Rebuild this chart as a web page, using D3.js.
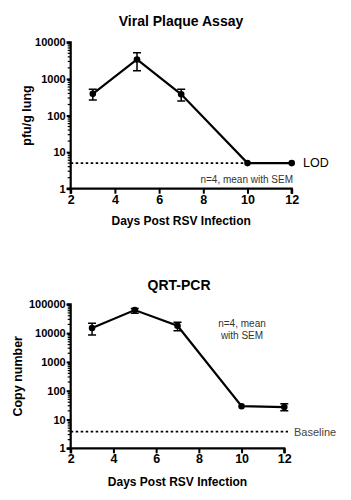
<!DOCTYPE html>
<html>
<head>
<meta charset="utf-8">
<script src="https://cdn.jsdelivr.net/npm/d3@7"></script>
<style>
body{margin:0;background:#fff;}
svg{font-family:"Liberation Sans",Arial,sans-serif;}
</style>
</head>
<body>
<svg id="drawing_region" width="351" height="500"></svg>
<script>
// data
const days = [3,5,7,10,12]
const plaque_mean = [390,3400,380,5,5]
const plaque_hi = [525,5200,520,null,null]
const plaque_lo = [265,1670,250,null,null]
const plaque_lod = 5
const pcr_mean = [15000,63000,18000,29,27]
const pcr_hi = [22000,72000,24000,null,35]
const pcr_lo = [8600,49000,12000,null,20]
const pcr_baseline = 3.8
const x_ticks = [2,4,6,8,10,12]
const plaque_yticks = [1,10,100,1000,10000]
const pcr_yticks = [1,10,100,1000,10000,100000]

const svg = d3.select("#drawing_region")

function draw_panel(config){
    const g = svg.append("g")
    const xscale = d3.scaleLinear().domain([2,12]).range([config.left,config.right])
    const yscale = d3.scaleLog().domain([1,config.ymax]).range([config.bottom,config.top])

    // title
    g.append("text")
        .attr("x",config.title_x).attr("y",config.title_y)
        .attr("text-anchor","middle").attr("font-weight","bold").attr("font-size",14)
        .text(config.title)

    // minor ticks on y
    const minor = []
    for(let p=1;p<config.ymax;p*=10){
        for(let k=2;k<=9;k++) minor.push(p*k)
    }
    g.selectAll(".minor").data(minor).enter().append("line")
        .attr("x1",config.left-3).attr("x2",config.left)
        .attr("y1",d=>yscale(d)).attr("y2",d=>yscale(d))
        .attr("stroke","#000").attr("stroke-width",1.2)

    const yaxis = d3.axisLeft(yscale).tickValues(config.yticks).tickFormat(d3.format("d"))
        .tickSize(4).tickPadding(1)
    const yg = g.append("g").attr("transform",`translate(${config.left},0)`).call(yaxis)
    yg.select(".domain").attr("stroke-width",2.2).attr("d",`M-4,${config.bottom}H0V${config.top}H-4`)
    yg.selectAll(".tick line").attr("stroke-width",2)
    yg.selectAll("text").attr("font-size",11).attr("font-weight","bold").attr("font-family","Liberation Sans, Arial, sans-serif").attr("fill","#000")

    const xaxis = d3.axisBottom(xscale).tickValues(x_ticks).tickSize(5).tickPadding(1)
    const xg = g.append("g").attr("transform",`translate(0,${config.bottom})`).call(xaxis)
    xg.select(".domain").attr("stroke-width",2.2).attr("d",`M${config.left},5V0H${config.right}V5`)
    xg.selectAll(".tick line").attr("stroke-width",2)
    xg.selectAll("text").attr("font-size",12.5).attr("font-weight","bold").attr("font-family","Liberation Sans, Arial, sans-serif").attr("fill","#000")

    // axis labels
    g.append("text")
        .attr("x",(config.left+config.right)/2).attr("y",config.xlabel_y)
        .attr("text-anchor","middle").attr("font-weight","bold").attr("font-size",12)
        .text("Days Post RSV Infection")
    g.append("text")
        .attr("transform",`translate(${config.ylabel_x},${(config.top+config.bottom)/2}) rotate(-90)`)
        .attr("text-anchor","middle").attr("font-weight","bold").attr("font-size",12.5)
        .text(config.ylabel)

    // reference line
    g.append("line")
        .attr("x1",xscale(2)).attr("x2",config.ref_end)
        .attr("y1",yscale(config.ref)).attr("y2",yscale(config.ref))
        .attr("stroke","#000").attr("stroke-width",1.8).attr("stroke-dasharray","2.5,2.5")
    g.append("text")
        .attr("x",config.ref_end+config.ref_gap).attr("y",yscale(config.ref)+4)
        .attr("font-size",config.ref_size).attr("fill",config.ref_color)
        .text(config.ref_label)

    // line
    const pts = days.map((d,i)=>({x:d,y:config.mean[i],hi:config.hi[i],lo:config.lo[i]}))
    g.append("path").datum(pts)
        .attr("d",d3.line().x(d=>xscale(d.x)).y(d=>yscale(d.y)))
        .attr("fill","none").attr("stroke","#000").attr("stroke-width",2.2)

    // error bars
    const eb = pts.filter(d=>d.hi!=null)
    g.selectAll(".eb").data(eb).enter().append("path")
        .attr("d",d=>{
            const x = xscale(d.x), y1 = yscale(d.hi), y2 = yscale(d.lo)
            return `M${x-4},${y1}H${x+4}M${x},${y1}V${y2}M${x-4},${y2}H${x+4}`
        })
        .attr("fill","none").attr("stroke","#000").attr("stroke-width",1.5)

    g.selectAll(".dot").data(pts).enter().append("circle")
        .attr("cx",d=>xscale(d.x)).attr("cy",d=>yscale(d.y)).attr("r",3.3)
        .attr("fill","#000")

    // note
    config.note.forEach((t,i)=>{
        g.append("text")
            .attr("x",config.note_x).attr("y",config.note_y+i*12)
            .attr("text-anchor",config.note_anchor).attr("font-size",10).attr("fill","#333")
            .text(t)
    })
}

draw_panel({
    title:"Viral Plaque Assay", title_x:181, title_y:26,
    left:70.7, right:291.7, top:42.3, bottom:188.7, ymax:10000, yticks:plaque_yticks,
    ylabel:"pfu/g lung", ylabel_x:31, xlabel_y:225,
    mean:plaque_mean, hi:plaque_hi, lo:plaque_lo,
    ref:plaque_lod, ref_end:292, ref_gap:11, ref_label:"LOD", ref_size:12.5, ref_color:"#000",
    note:["n=4, mean with SEM"], note_x:293, note_y:183, note_anchor:"end"
})

draw_panel({
    title:"QRT-PCR", title_x:179, title_y:290,
    left:70.7, right:284.3, top:304.3, bottom:448.3, ymax:100000, yticks:pcr_yticks,
    ylabel:"Copy number", ylabel_x:22, xlabel_y:486,
    mean:pcr_mean, hi:pcr_hi, lo:pcr_lo,
    ref:pcr_baseline, ref_end:288, ref_gap:6, ref_label:"Baseline", ref_size:11, ref_color:"#444",
    note:["n=4, mean","with SEM"], note_x:242, note_y:327, note_anchor:"middle"
})
</script>
</body>
</html>
